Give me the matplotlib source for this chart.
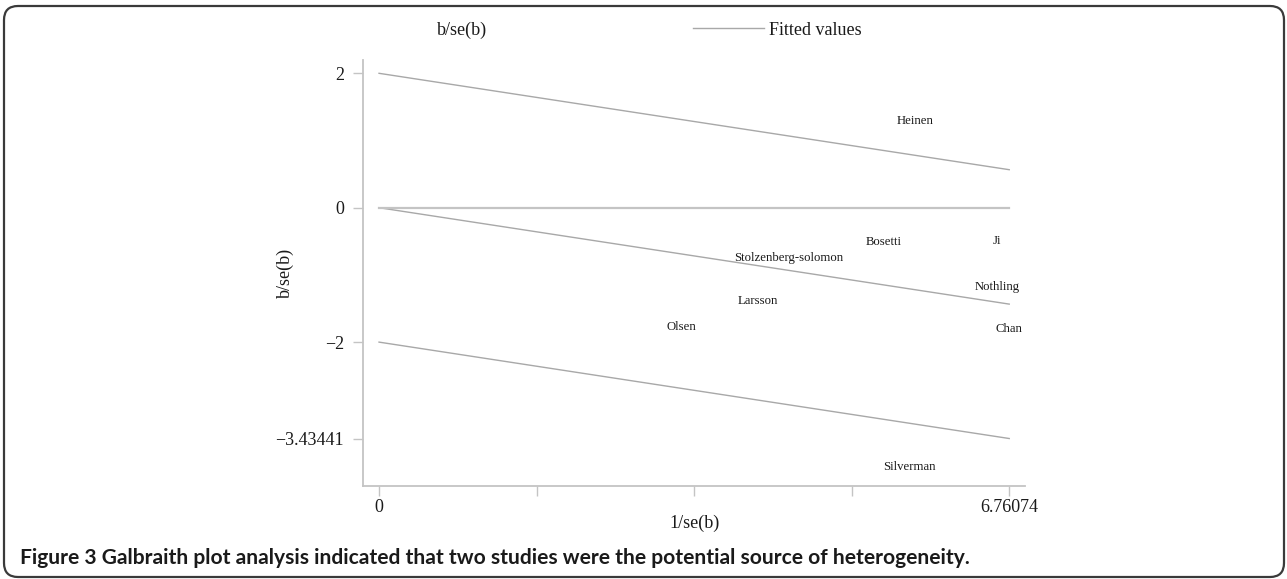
"""Galbraith plot: standardized effect b/se(b) against precision 1/se(b)."""

import matplotlib

matplotlib.use("Agg")
import matplotlib.pyplot as plt
from matplotlib.lines import Line2D
from matplotlib.patches import FancyBboxPatch

# studies (x = 1/se(b), y = b/se(b))
studies = ["Heinen", "Bosetti", "Ji", "Stolzenberg-solomon", "Nothling",
           "Larsson", "Chan", "Olsen", "Silverman"]
precision = [5.75, 5.41, 6.63, 4.39, 6.63, 4.06, 6.76, 3.24, 5.69]
z_score = [1.29, -0.51, -0.50, -0.75, -1.18, -1.39, -1.80, -1.78, -3.86]

# fitted line through the origin and its +/-2 band
x_max = 6.76074
slope = -0.21217
band_offsets = [2, 0, -2]

yticks = [2, 0, -2, -3.43441]
ytick_labels = ["2", "0", "\u22122", "\u22123.43441"]
xticks = [0, x_max / 4, x_max / 2, 3 * x_max / 4, x_max]
xtick_labels = ["0", "", "", "", "6.76074"]

caption = ("Figure 3 Galbraith plot analysis indicated that two studies "
           "were the potential source of heterogeneity.")

SERIF = "Liberation Serif"
LINE_GREY = "#a8a8a8"
AXIS_GREY = "#c4c4c4"
TEXT = "#1a1a1a"

W, H = 1287, 579
fig = plt.figure(figsize=(W / 100, H / 100), dpi=100)
ax = fig.add_axes([363 / W, 1 - 486 / H, (1025 - 363) / W, (486 - 60) / H])

ax.plot(precision, z_score, linestyle="none", marker="", label="b/se(b)")
for name, xv, yv in zip(studies, precision, z_score):
    ax.text(xv, yv, name, ha="center", va="center", fontsize=9.2,
            family=SERIF, color=TEXT)

for i, off in enumerate(band_offsets):
    ax.plot([0, x_max], [off, off + slope * x_max], color=LINE_GREY, lw=1.0,
            label="Fitted values" if i == 0 else None)
ax.plot([0, x_max], [0, 0], color=AXIS_GREY, lw=1.6)

ax.set_xlim(-0.172, 6.93)
ax.set_ylim(-4.141, 2.198)
ax.set_xticks(xticks)
ax.set_xticklabels(xtick_labels)
ax.set_yticks(yticks)
ax.set_yticklabels(ytick_labels)
ax.tick_params(axis="both", length=7.2, width=1.0, color=AXIS_GREY,
               labelsize=13, labelcolor=TEXT)
ax.tick_params(axis="x", pad=2.5)
ax.tick_params(axis="y", pad=6.5)
for lab in ax.get_xticklabels() + ax.get_yticklabels():
    lab.set_family(SERIF)

for side in ["top", "right"]:
    ax.spines[side].set_visible(False)
for side in ["left", "bottom"]:
    ax.spines[side].set_color(AXIS_GREY)
    ax.spines[side].set_linewidth(1.3)

ax.set_xlabel("1/se(b)", fontsize=13, family=SERIF, color=TEXT)
ax.set_ylabel("b/se(b)", fontsize=13, family=SERIF, color=TEXT)
ax.xaxis.set_label_coords((695 - 363) / 662, (486 - 523) / 426)
ax.yaxis.set_label_coords((285 - 363) / 662, 0.5)
ax.xaxis.label.set_va("center")
ax.yaxis.label.set_va("center")

handles = [Line2D([], [], linestyle="none", marker=""),
           Line2D([], [], color=LINE_GREY, lw=1.0)]
fig.legend(handles, ["b/se(b)", "Fitted values"], ncol=2, frameon=False,
           loc="center left", bbox_to_anchor=(361 / W, 1 - 30 / H),
           borderaxespad=0, borderpad=0, handlelength=3.93,
           handletextpad=0.28, columnspacing=11.4,
           prop={"family": SERIF, "size": 13}, labelcolor=TEXT)

# caption, sized to the width it has in the original
cap = fig.text(20 / W, 1 - 564 / H, caption, ha="left", va="baseline",
               family="Lato", weight="bold", fontsize=13, color=TEXT)
fig.canvas.draw()
width = cap.get_window_extent().width
cap.set_fontsize(13 * 946 / width)

frame = FancyBboxPatch((0.04, 0.02), 12.80, 5.71,
                       boxstyle="round,pad=0,rounding_size=0.14",
                       transform=fig.dpi_scale_trans, fill=False,
                       edgecolor="#3a3a3a", lw=1.6)
fig.add_artist(frame)

fig.savefig("out.png", dpi=100)
